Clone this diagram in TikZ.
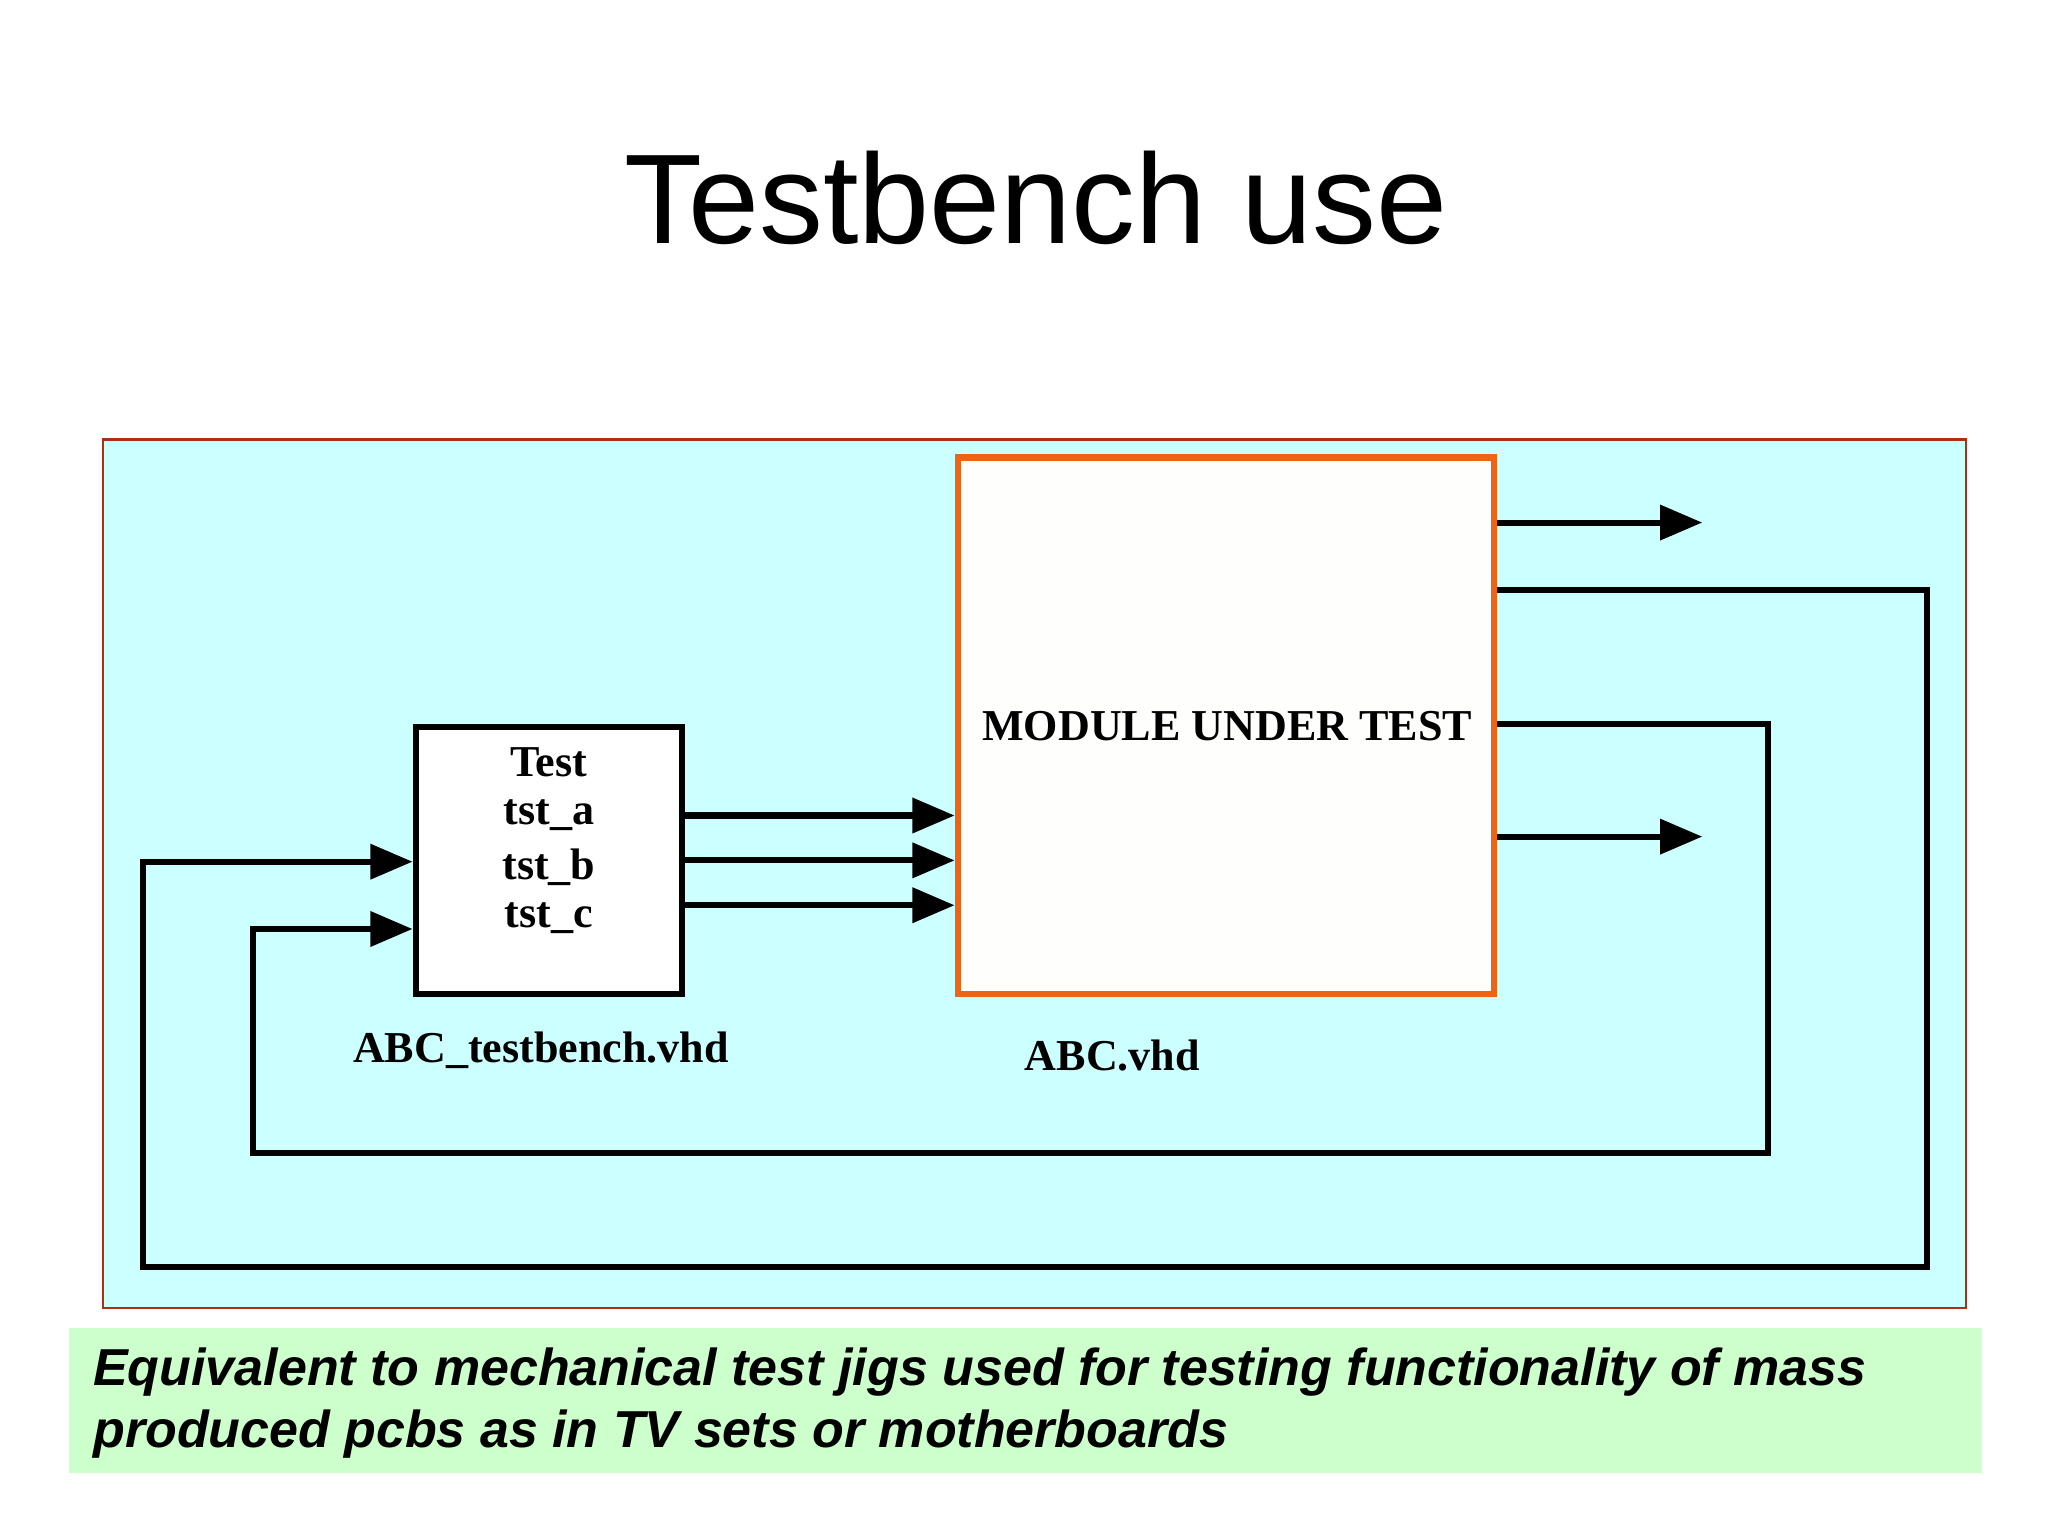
\documentclass[tikz,border=0pt]{standalone}
\usepackage{fontspec}
\setmainfont{Liberation Serif}
\newfontfamily\sansf{Liberation Sans}
\usetikzlibrary{arrows.meta}
\definecolor{cyanbg}{RGB}{204,255,255}
\definecolor{greenbg}{RGB}{204,255,204}
\definecolor{frame}{RGB}{170,50,20}
\definecolor{orng}{RGB}{238,100,20}
\definecolor{offw}{RGB}{254,254,252}
\begin{document}
\begin{tikzpicture}[x=0.01cm,y=-0.01cm,
  wire/.style={line width=1.3pt,line join=miter},
  arr/.style={wire,-{Triangle[length=0.32cm,width=0.26cm]}},
  lbl/.style={font=\fontsize{9.5}{11}\selectfont\bfseries},
  foot/.style={anchor=west,inner sep=0pt,font=\sansf\fontsize{11.2}{13}\selectfont\bfseries\itshape}]
\useasboundingbox (0,0) rectangle (1552,1164);
\node[font=\sansf\fontsize{27.5}{32}\selectfont] (title) at (785,150) {Testbench use};
\filldraw[fill=cyanbg,draw=frame,line width=0.5pt] (78,333) rectangle (1490,991);
\fill[greenbg] (52,1006) rectangle (1502,1116);
\node[foot] (t1) at (70,1040) {Equivalent to mechanical test jigs used for testing functionality of mass};
\node[foot] (t2) at (70,1087) {produced pcbs as in TV sets or motherboards};
\node[draw,fill=white,line width=1.3pt,minimum width=2.02cm,minimum height=2.02cm] (tb) at (416,652) {};
\node[lbl] at (416,578) {Test};
\node[lbl] at (416,618) {tst\_a};
\node[lbl] at (416,657) {tst\_b};
\node[lbl] at (416,696) {tst\_c};
\node[draw=orng,fill=offw,line width=1.4pt,minimum width=4.06cm,minimum height=4.06cm] (mut) at (929,550) {};
\node[lbl] (mutl) at (930,550) {MODULE UNDER TEST};
\node[lbl] (tbn) at (410,796) {ABC\_testbench.vhd};
\node[lbl] (mn) at (843,800) {ABC.vhd};
\draw[arr] (tb.east |- 0,618) -- (mut.west |- 0,618);
\draw[arr] (tb.east |- 0,652) -- (mut.west |- 0,652);
\draw[arr] (tb.east |- 0,686) -- (mut.west |- 0,686);
\coordinate (o1) at (1290,396);
\coordinate (o4) at (1290,634);
\draw[arr] (mut.east |- o1) -- (o1);
\draw[arr] (mut.east |- o4) -- (o4);
\draw[arr] (mut.east |- 0,447) -- (1460,447) -- (1460,960) -- (108,960) -- (108,653) -- (tb.west |- 0,653);
\draw[arr] (mut.east |- 0,549) -- (1340,549) -- (1340,874) -- (192,874) -- (192,704) -- (tb.west |- 0,704);
\end{tikzpicture}
\end{document}
